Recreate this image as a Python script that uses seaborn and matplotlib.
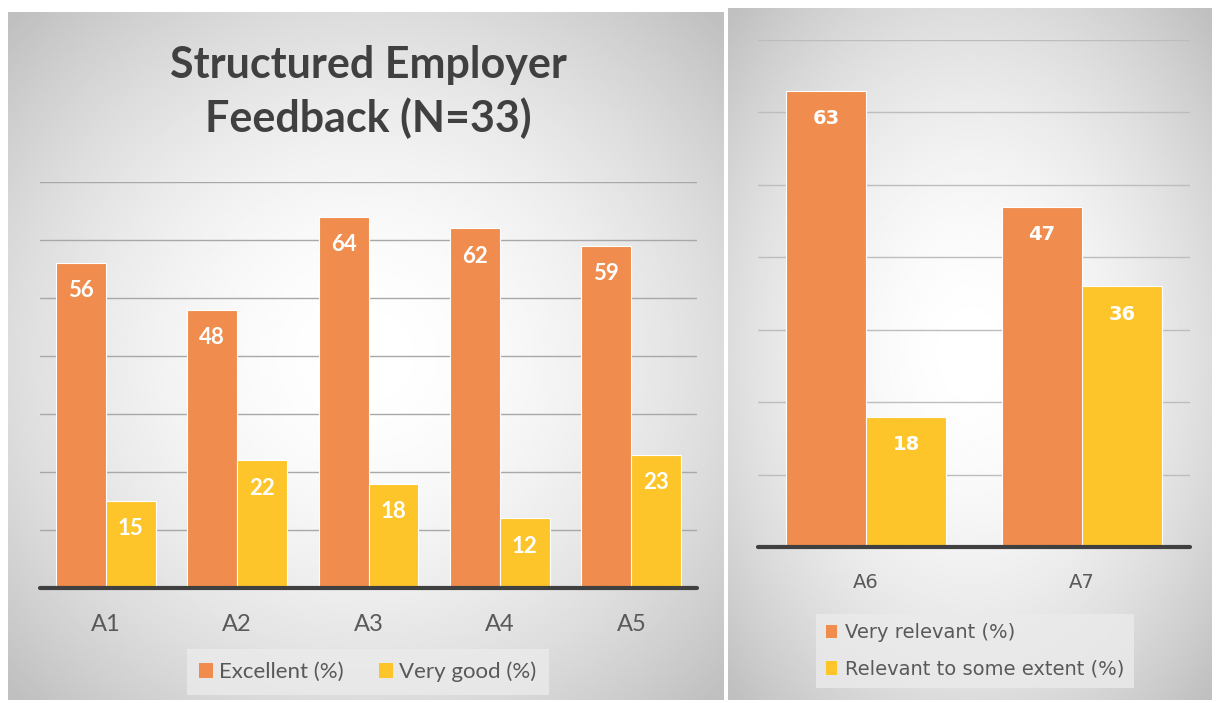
import numpy as np
import pandas as pd
import seaborn as sns
import matplotlib.pyplot as plt
from matplotlib.patches import Patch

# data
left_items = ["A1", "A2", "A3", "A4", "A5"]
excellent = [56, 48, 64, 62, 59]
very_good = [15, 22, 18, 12, 23]
left_series = ["Excellent (%)", "Very good (%)"]

right_items = ["A6", "A7"]
very_relevant = [63, 47]
some_extent = [18, 36]
right_series = ["Very relevant (%)", "Relevant to some extent (%)"]

title = "Structured Employer\nFeedback (N=33)"

ORANGE = "#EF8C4E"
YELLOW = "#FDC52A"
TEXT = "#595959"
NARROW = ["Lato", "DejaVu Sans"]
WIDE = ["DejaVu Sans"]

sns.set_theme(style="white")
plt.rcParams["font.family"] = NARROW

W, H = 1217, 703
fig = plt.figure(figsize=(W / 100, H / 100), dpi=100)
fig.patch.set_facecolor("white")


def px(x0, y0, x1, y1):
    return [x0 / W, (H - y1) / H, (x1 - x0) / W, (y1 - y0) / H]


def gradient_panel(rect, cx=0.5, cy=0.5):
    bg = fig.add_axes(rect, zorder=0)
    yy, xx = np.mgrid[0:1:300j, 0:1:300j]
    r = np.sqrt(((xx - cx) / 0.7) ** 2 + ((yy - cy) / 0.7) ** 2)
    shade = 1.0 - 0.25 * np.clip(r / 1.0, 0, 1) ** 1.8
    bg.imshow(shade, cmap="gray", vmin=0, vmax=1, aspect="auto",
              extent=[0, 1, 0, 1], origin="upper")
    bg.set_axis_off()


gradient_panel(px(8, 12, 724, 700))
gradient_panel(px(728, 8, 1212, 700))


def draw_bars(rect, items, a, b, names, width, font, tick_size, lab_size, grid):
    ax = fig.add_axes(rect, zorder=2)
    ax.set_facecolor("none")
    df = pd.DataFrame({
        "item": items * 2,
        "value": a + b,
        "series": [names[0]] * len(items) + [names[1]] * len(items),
    })
    sns.barplot(data=df, x="item", y="value", hue="series",
                palette=[ORANGE, YELLOW], saturation=1, width=width,
                edgecolor="white", linewidth=0.8, legend=False, ax=ax, zorder=3)
    ax.set_ylim(0, 70)
    ax.set_yticks(range(10, 71, 10))
    ax.yaxis.grid(True, color=grid, linewidth=1)
    ax.set_axisbelow(True)
    ax.tick_params(left=False, labelleft=False, bottom=False, pad=13)
    for lab in ax.get_xticklabels():
        lab.set_fontsize(tick_size)
        lab.set_color(TEXT)
        lab.set_family(font)
    ax.set_xlabel("")
    ax.set_ylabel("")
    for s in ax.spines.values():
        s.set_visible(False)
    ax.axhline(0, color="#404040", linewidth=3, zorder=5, clip_on=False)
    for cont in ax.containers:
        for patch, val in zip(cont.patches, cont.datavalues):
            ax.annotate(f"{val:.0f}",
                        (patch.get_x() + patch.get_width() / 2, patch.get_height()),
                        xytext=(0, -20), textcoords="offset points",
                        ha="center", va="center", color="white",
                        fontsize=lab_size, fontweight="bold", family=font, zorder=6)
    return ax


draw_bars(px(40, 182, 697, 588), left_items, excellent, very_good, left_series,
          0.76, NARROW, 17, 16, "#a8a8a8")
draw_bars(px(758, 40, 1190, 547), right_items, very_relevant, some_extent, right_series,
          0.74, WIDE, 14, 14, "#bdbdbd")

fig.text(368 / W, 1 - 92 / H, title, ha="center", va="center",
         fontsize=31, fontweight="bold", color="#404040", family=NARROW,
         linespacing=1.38, zorder=3)

handles_l = [Patch(facecolor=ORANGE, edgecolor="none"), Patch(facecolor=YELLOW, edgecolor="none")]
leg1 = fig.legend(handles_l, left_series, loc="center", ncol=2,
                  bbox_to_anchor=(368 / W, 1 - 672 / H), frameon=True,
                  prop={"family": NARROW, "size": 16}, labelcolor=TEXT,
                  handlelength=0.6, handleheight=0.7, handletextpad=0.3,
                  columnspacing=1.6, borderpad=0.55, fancybox=False)
leg1.get_frame().set_facecolor("#ebebeb")
leg1.get_frame().set_edgecolor("none")
leg1.set_zorder(4)

leg2 = fig.legend(handles_l, right_series, loc="center", ncol=1,
                  bbox_to_anchor=(975 / W, 1 - 651 / H), frameon=True,
                  prop={"family": WIDE, "size": 14}, labelcolor=TEXT,
                  handlelength=0.6, handleheight=0.7, handletextpad=0.4,
                  labelspacing=0.9, borderpad=0.5, fancybox=False)
leg2.get_frame().set_facecolor("#ebebeb")
leg2.get_frame().set_edgecolor("none")
leg2.set_zorder(4)

fig.savefig("out.png", dpi=100)
